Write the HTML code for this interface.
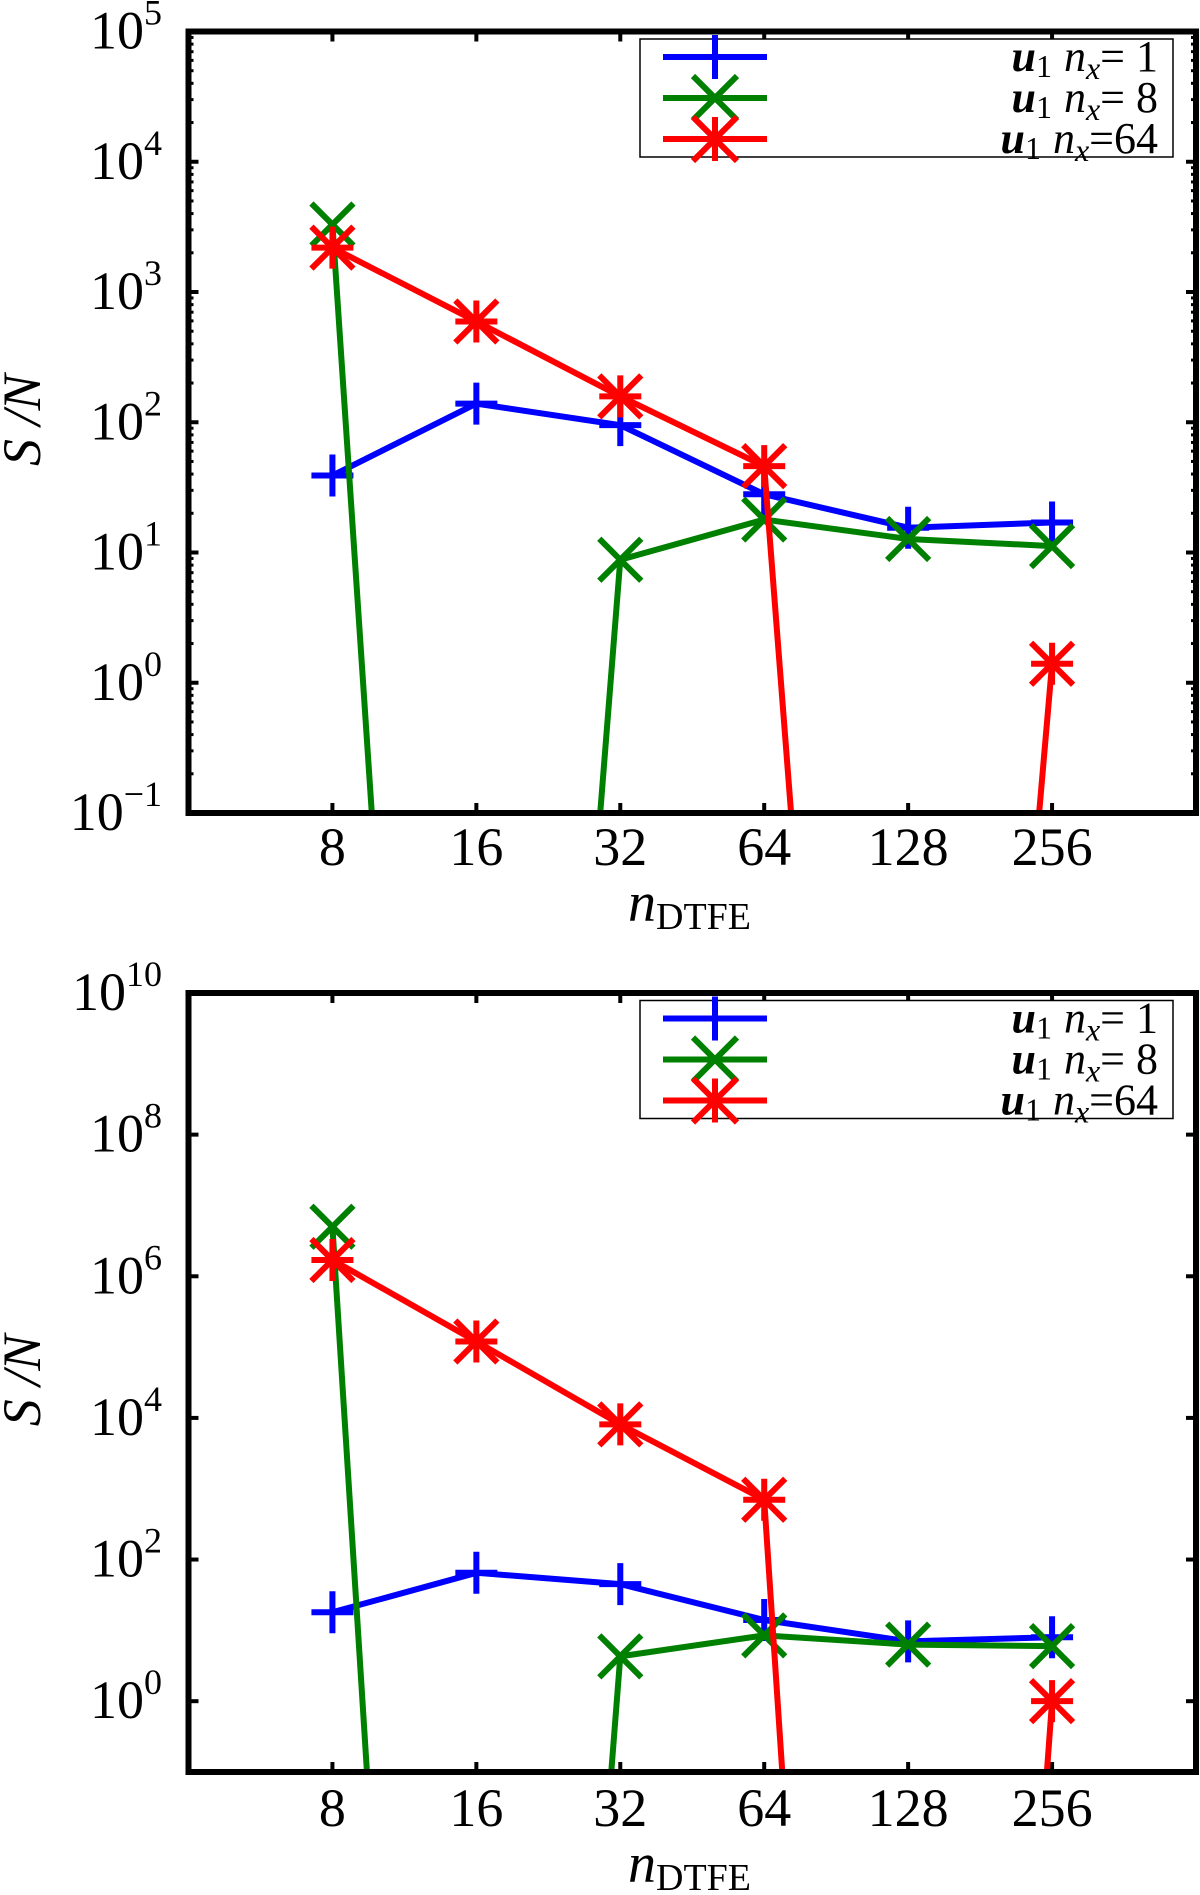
<!DOCTYPE html>
<html><head><meta charset="utf-8">
<style>
html,body{margin:0;padding:0;background:#fff;overflow:hidden;}
svg{display:block;}
</style></head>
<body>
<svg id="chart" width="1200" height="1895" viewBox="0 0 1200 1895" xmlns="http://www.w3.org/2000/svg" font-family="'Liberation Serif', 'Times New Roman', 'DejaVu Serif', serif" style="font-family:'Liberation Serif','Times New Roman','DejaVu Serif',serif;"></svg>
<script>
// ---- data ----
const categories = [8, 16, 32, 64, 128, 256];
const xTickLabels = ["8", "16", "32", "64", "128", "256"];
const seriesNames = ["nx1", "nx8", "nx64"];
const legendNumbers = ["= 1", "= 8", "=64"];
// top panel values
const topBlue = [39, 139, 95, 28, 15.5, 17];
const topGreen = [3300, 1e-13, 8.8, 17.9, 12.7, 11.2];
const topRed = [2190, 594, 158, 46, 2.5e-13, 1.4];
const topYTickExps = [-1, 0, 1, 2, 3, 4, 5];
// bottom panel values
const botBlue = [18, 65, 45, 14, 7, 8];
const botGreen = [5e6, 4e-26, 4.3, 8.5, 6.3, 6];
const botRed = [1.7e6, 1.2e5, 8100, 700, 1.6e-28, 1.0];
const botYTickExps = [0, 2, 4, 6, 8, 10];

const NS = "http://www.w3.org/2000/svg";
const svg = document.getElementById("chart");
const FONT = "'Liberation Serif', 'Times New Roman', 'DejaVu Serif', serif";
function mk(tag, attrs, parent) {
  const e = document.createElementNS(NS, tag);
  for (const k in attrs) e.setAttribute(k, attrs[k]);
  if (tag === "text") e.setAttribute("font-family", FONT);
  (parent || svg).appendChild(e);
  return e;
}
const colors = ["#0000ff", "#008000", "#ff0000"];
const L = 188.5, R = 1196;
function xs(v) { return L + (Math.log2(v) - 2) / 7 * (R - L); }

function marker(g, type, cx, cy, h, color) {
  const segs = [];
  if (type === 0 || type === 2) { segs.push([cx - h, cy, cx + h, cy], [cx, cy - h, cx, cy + h]); }
  if (type === 1 || type === 2) { segs.push([cx - h, cy - h, cx + h, cy + h], [cx - h, cy + h, cx + h, cy - h]); }
  segs.forEach(s => {
    const l = mk("line", {x1: s[0], y1: s[1], x2: s[2], y2: s[3], stroke: color, "stroke-width": 6}, g);
    
    
  });
}

function panel(id, top, bottom, ymin, ymax, tickExps, minor, series, labelBase) {
  const ys = v => bottom - (Math.log10(v) - ymin) / (ymax - ymin) * (bottom - top);
  const g = mk("g", {});
  
  
  const clipId = id + "-clip";
  const cp = mk("clipPath", {id: clipId}, g);
  mk("rect", {x: L, y: top, width: R - L, height: bottom - top}, cp);

  const tg = mk("g", {stroke: "#000", "stroke-width": 3}, g);
  
  
  for (let e = ymin; e <= ymax; e++) {
    if (tickExps.includes(e)) {
      const y = ys(Math.pow(10, e));
      mk("line", {x1: L, y1: y, x2: L + 10, y2: y, "stroke-width": 4}, tg);
      mk("line", {x1: R, y1: y, x2: R - 10, y2: y, "stroke-width": 4}, tg);
    }
    if (minor && e < ymax) {
      for (let m = 2; m <= 9; m++) {
        const y = ys(m * Math.pow(10, e));
        mk("line", {x1: L, y1: y, x2: L + 5, y2: y}, tg);
        mk("line", {x1: R, y1: y, x2: R - 5, y2: y}, tg);
      }
    }
  }
  categories.forEach(c => {
    const x = xs(c);
    mk("line", {x1: x, y1: bottom, x2: x, y2: bottom - 10, "stroke-width": 4}, tg);
    mk("line", {x1: x, y1: top, x2: x, y2: top + 10, "stroke-width": 4}, tg);
  });

  tickExps.forEach(e => {
    const y = ys(Math.pow(10, e));
    const t = mk("text", {x: 162, y: y + 17, "text-anchor": "end", "font-size": 54}, g);
    
    
    const b = mk("tspan", {}, t); b.textContent = "10";
    const s = mk("tspan", {dy: -24, "font-size": 36}, t);
    s.textContent = e < 0 ? "\u2212" + (-e) : String(e);
  });
  categories.forEach((c, i) => {
    const t = mk("text", {x: xs(c), y: labelBase, "text-anchor": "middle", "font-size": 54}, g);
    
    
    t.textContent = xTickLabels[i];
  });
  const xt = mk("text", {x: 628, y: labelBase + 56, "font-size": 56, "font-style": "italic"}, g);
  
  
  xt.textContent = "n";
  const sub = mk("tspan", {dy: 8, "font-size": 38, "font-style": "normal"}, xt); sub.textContent = "DTFE";
  const cy = (top + bottom) / 2 - 2;
  const yt = mk("text", {x: 0, y: 0, "font-size": 54, "font-style": "italic", "text-anchor": "middle",
    transform: "translate(40," + cy + ") rotate(-90)"}, g);
  
  
  yt.textContent = "S /N";

  series.forEach((vals, si) => {
    const sg = mk("g", {"clip-path": "url(#" + clipId + ")"}, g);
    
    
    const pts = vals.map((v, i) => xs(categories[i]) + "," + ys(v)).join(" ");
    const pl = mk("polyline", {points: pts, fill: "none", stroke: colors[si], "stroke-width": 6}, sg);
    
    
    vals.forEach((v, i) => marker(sg, si, xs(categories[i]), ys(v), 21, colors[si]));
  });

  const fr = mk("rect", {x: L, y: top, width: R - L, height: bottom - top, fill: "none", stroke: "#000", "stroke-width": 6}, g);
  
  

  const lg = mk("g", {}, g);
  
  
  const ly = top + 7.5;
  mk("rect", {x: 640, y: ly, width: 533, height: 118, fill: "#fff", stroke: "#000", "stroke-width": 1.5}, lg);
  [0, 1, 2].forEach(i => {
    const ry = top + 25.5 + i * 41;
    const eg = mk("g", {}, lg);
    
    
    mk("line", {x1: 663, y1: ry, x2: 767, y2: ry, stroke: colors[i], "stroke-width": 6}, eg);
    marker(eg, i, 715, ry, 22, colors[i]);
    const t = mk("text", {x: 1158, y: ry + 14, "text-anchor": "end", "font-size": 44}, eg);
    const u = mk("tspan", {"font-weight": "bold", "font-style": "italic"}, t); u.textContent = "u";
    const one = mk("tspan", {dy: 6, "font-size": 32}, t); one.textContent = "1";
    const n = mk("tspan", {dy: -6, dx: 12, "font-style": "italic"}, t); n.textContent = "n";
    const xx = mk("tspan", {dy: 8, "font-size": 32, "font-style": "italic"}, t); xx.textContent = "x";
    const eq = mk("tspan", {dy: -8}, t); eq.textContent = legendNumbers[i];
  });
}

panel("top-panel", 31.5, 813, -1, 5, topYTickExps, true, [topBlue, topGreen, topRed], 865);
panel("bottom-panel", 993, 1772, -1, 10, botYTickExps, false, [botBlue, botGreen, botRed], 1826);
</script>
</body></html>
